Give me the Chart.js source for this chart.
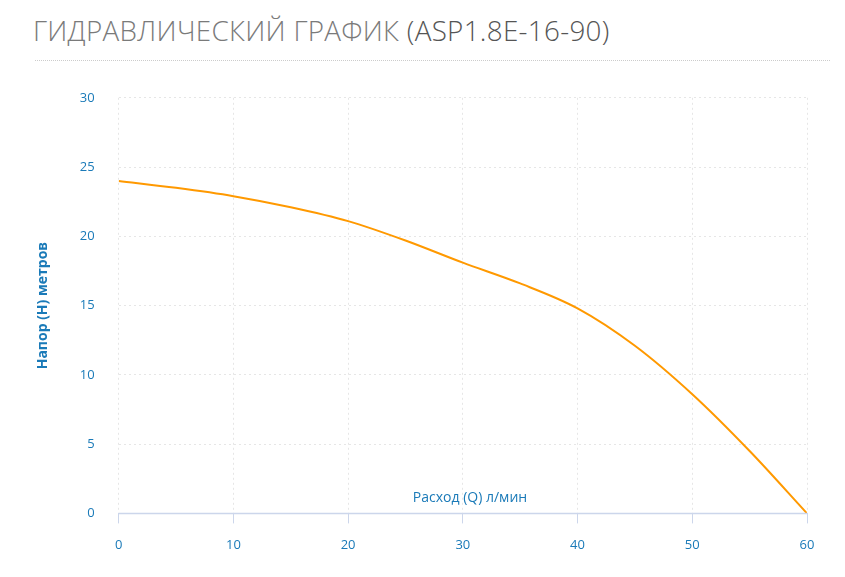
<!DOCTYPE html>
<html>
<head>
<meta charset="utf-8">
<script src="https://cdn.jsdelivr.net/npm/chart.js@4"></script>
<style>
body { margin: 0; background: #fff; font-family: "Open Sans", sans-serif; }
#title { position: absolute; left: 33px; top: 11px; font-size: 27.8px; color: #7a7a7a; font-weight: 300; letter-spacing: 0.3px; }
#title span { color: #555; }
#sep { position: absolute; left: 35px; top: 60px; width: 795px; border-top: 1px dotted #ccc; }
#wrap { position: absolute; left: 0; top: 66px; width: 845px; height: 511px; }
#xt { position: absolute; left: 0; top: 487px; width: 940px; text-align: center; font-size: 14px; color: #1a7ab8; }
</style>
</head>
<body>
<div id="title">ГИДРАВЛИЧЕСКИЙ ГРАФИК <span>(ASP1.8E-16-90)</span></div>
<div id="sep"></div>
<div id="wrap"><canvas id="c"></canvas></div>
<div id="xt">Расход (Q) л/мин</div>
<script>
// flow, l/min
const flow = [0, 5, 10, 15, 20, 25, 30, 35, 40, 45, 50, 55, 60];
// head, m
const head = [24, 23.5, 22.9, 22.1, 21.1, 19.7, 18.1, 16.6, 14.8, 12.1, 8.6, 4.5, 0];
const xTicks = [0, 10, 20, 30, 40, 50, 60];
const blue = '#1a7ab8';

new Chart(document.getElementById('c'), {
    type: 'line',
    data: {
        datasets: [{
            data: flow.map((x, i) => ({ x: x, y: head[i] })),
            borderColor: '#ff9900', borderWidth: 2, pointRadius: 0,
            cubicInterpolationMode: 'monotone', fill: false
        }]
    },
    options: {
        responsive: true, maintainAspectRatio: false, animation: false,
        layout: { padding: { left: 31, right: 38, top: 1, bottom: 10 } },
        plugins: { legend: { display: false }, tooltip: { enabled: false } },
        scales: {
            x: {
                type: 'linear', min: 0, max: 60,
                afterBuildTicks: s => { s.ticks = xTicks.map(v => ({ value: v })); },
                grid: { color: '#e6e6e6', tickColor: '#ccd6eb', tickLength: 10, drawTicks: true },
                border: { color: '#ccd6eb', dash: [2, 3] },
                ticks: { color: blue, padding: 14, font: { family: 'Open Sans', size: 13 }, maxRotation: 0 }
            },
            y: {
                min: 0, max: 30,
                ticks: { stepSize: 5, color: blue, padding: 24, font: { family: 'Open Sans', size: 13 } },
                grid: { color: '#e6e6e6', drawTicks: false },
                border: { display: false, dash: [2, 3] },
                title: { display: true, text: 'Напор (H) метров', color: blue, font: { family: 'Open Sans', size: 14, weight: 'bold' } }
            }
        }
    },
    plugins: [{
        id: 'axisLine',
        afterDraw(chart) {
            const { ctx, chartArea, scales } = chart;
            const y = scales.y.getPixelForValue(0);
            ctx.save();
            ctx.strokeStyle = '#ccd6eb'; ctx.lineWidth = 1.5;
            ctx.beginPath(); ctx.moveTo(chartArea.left, y); ctx.lineTo(chartArea.right, y); ctx.stroke();
            ctx.restore();
        }
    }]
});
</script>
</body>
</html>
